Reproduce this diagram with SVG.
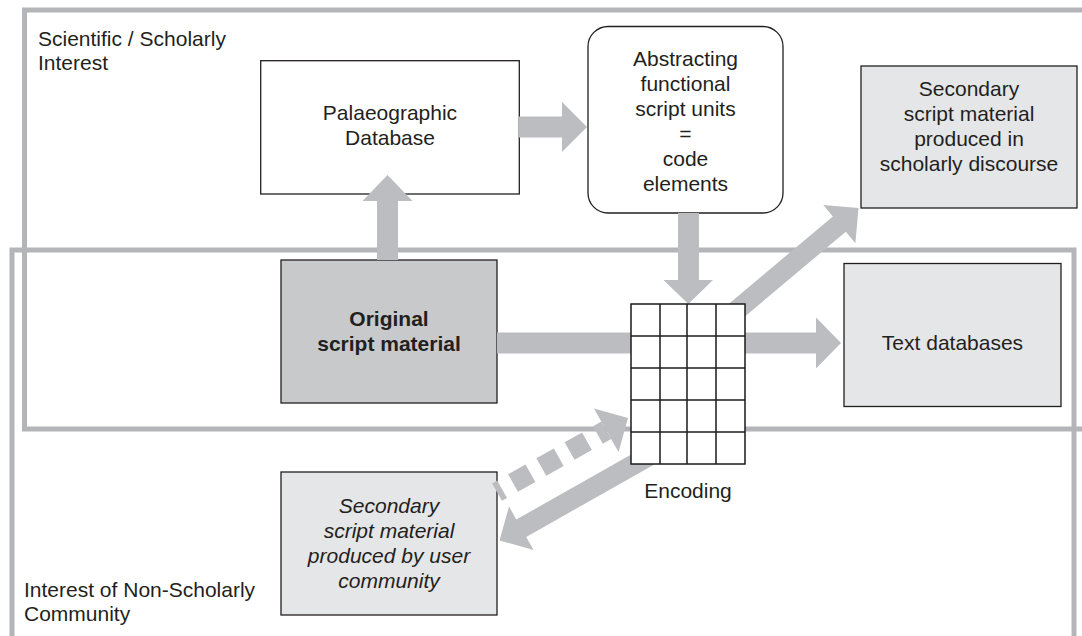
<svg xmlns="http://www.w3.org/2000/svg" width="1082" height="636" viewBox="0 0 1082 636">
  <style>
    .frame { fill: none; stroke: #b4b5b8; stroke-width: 5; }
    .box { stroke: #231f20; stroke-width: 1.3; }
    .plain { fill: #ffffff; }
    .dark { fill: #c8c9cb; }
    .light { fill: #e5e6e7; }
    .arrow { fill: #bcbdc0; stroke: none; }
    .dash { fill: none; stroke: #bcbdc0; stroke-width: 20; stroke-dasharray: 20 12.5; stroke-dashoffset: 14.1; }
    .grid { fill: #ffffff; stroke: #1a1a1a; stroke-width: 1.5; }
    .gridline { stroke: #1a1a1a; stroke-width: 1.5; }
    text { font-family: "Liberation Sans", Arial, Helvetica, sans-serif; font-size: 21px; fill: #231f20; }
    .c { text-anchor: middle; }
    .b { font-weight: bold; }
    .i { font-style: italic; }
  </style>

  <!-- interest areas -->
  <g id="areas">
    <rect class="frame" x="24.5" y="10" width="1100" height="419"/>
    <rect class="frame" x="12" y="250" width="1062" height="500"/>
    <text x="38" y="46">Scientific / Scholarly</text>
    <text x="38" y="70">Interest</text>
    <text x="24" y="597">Interest of Non-Scholarly</text>
    <text x="24" y="621">Community</text>
  </g>

  <g id="palaeographic-database">
    <rect class="box plain" x="260.7" y="60.7" width="258.6" height="133.3"/>
    <text class="c" x="390" y="120">Palaeographic</text>
    <text class="c" x="390" y="145">Database</text>
  </g>

  <g id="abstracting">
    <rect class="box plain" x="588" y="26.5" width="195" height="186.5" rx="20" ry="20"/>
    <text class="c" x="685.5" y="66">Abstracting</text>
    <text class="c" x="685.5" y="91">functional</text>
    <text class="c" x="685.5" y="116">script units</text>
    <text class="c" x="685.5" y="141">=</text>
    <text class="c" x="685.5" y="166">code</text>
    <text class="c" x="685.5" y="191">elements</text>
  </g>

  <g id="secondary-scholarly">
    <rect class="box light" x="861" y="66" width="216" height="142"/>
    <text class="c" x="969" y="96">Secondary</text>
    <text class="c" x="969" y="121">script material</text>
    <text class="c" x="969" y="146">produced in</text>
    <text class="c" x="969" y="171">scholarly discourse</text>
  </g>

  <g id="original-material">
    <rect class="box dark" x="281" y="260" width="216" height="143"/>
    <text class="c b" x="389" y="326">Original</text>
    <text class="c b" x="389" y="351">script material</text>
  </g>

  <g id="text-databases">
    <rect class="box light" x="844" y="263.5" width="217" height="143"/>
    <text class="c" x="952.5" y="350">Text databases</text>
  </g>

  <g id="secondary-community">
    <rect class="box light" x="281" y="472" width="216" height="143"/>
    <text class="c i" x="389" y="513">Secondary</text>
    <text class="c i" x="389" y="538">script material</text>
    <text class="c i" x="389" y="563">produced by user</text>
    <text class="c i" x="389" y="588">community</text>
  </g>

  <!-- block arrows -->
  <g id="connectors">
    <!-- original material up to palaeographic database -->
    <polygon class="arrow" points="377,260 377,201 362.5,201 387.5,175 412.5,201 398,201 398,260"/>
    <!-- palaeographic database to abstracting -->
    <polygon class="arrow" points="519,116.5 562,116.5 562,102 587,127 562,152 562,137.5 519,137.5"/>
    <!-- abstracting down to encoding -->
    <polygon class="arrow" points="678,213 678,280 663.5,280 688.3,304 713,280 699,280 699,213"/>
    <!-- original material through encoding to text databases -->
    <polygon class="arrow" points="497,332.5 816,332.5 816,317.5 841,343 816,368.5 816,353.5 497,353.5"/>
    <!-- encoding to scholarly secondary material -->
    <polygon class="arrow" points="718,312.9 832.9,216.4 823.3,204.9 858.5,208 855.4,243.2 845.8,231.7 730.9,328.2"/>
    <!-- encoding to user community material -->
    <polygon class="arrow" points="655.5,440.8 516.3,519.5 509,506.5 499.5,540.5 533.6,550 526.2,536.9 665.4,458.2"/>
    <!-- user community feedback (dashed) -->
    <line class="dash" x1="497" y1="492.1" x2="606.25" y2="430.3"/>
    <polygon class="arrow" points="593.95,408.55 628,418 618.55,452.05"/>
  </g>

  <g id="encoding">
    <rect class="grid" x="631" y="304" width="114" height="160"/>
    <line class="gridline" x1="631" y1="336" x2="745" y2="336"/>
    <line class="gridline" x1="631" y1="368" x2="745" y2="368"/>
    <line class="gridline" x1="631" y1="400" x2="745" y2="400"/>
    <line class="gridline" x1="631" y1="432" x2="745" y2="432"/>
    <line class="gridline" x1="660" y1="304" x2="660" y2="464"/>
    <line class="gridline" x1="687" y1="304" x2="687" y2="464"/>
    <line class="gridline" x1="716" y1="304" x2="716" y2="464"/>
    <text class="c" x="688" y="497.5">Encoding</text>
  </g>
</svg>
